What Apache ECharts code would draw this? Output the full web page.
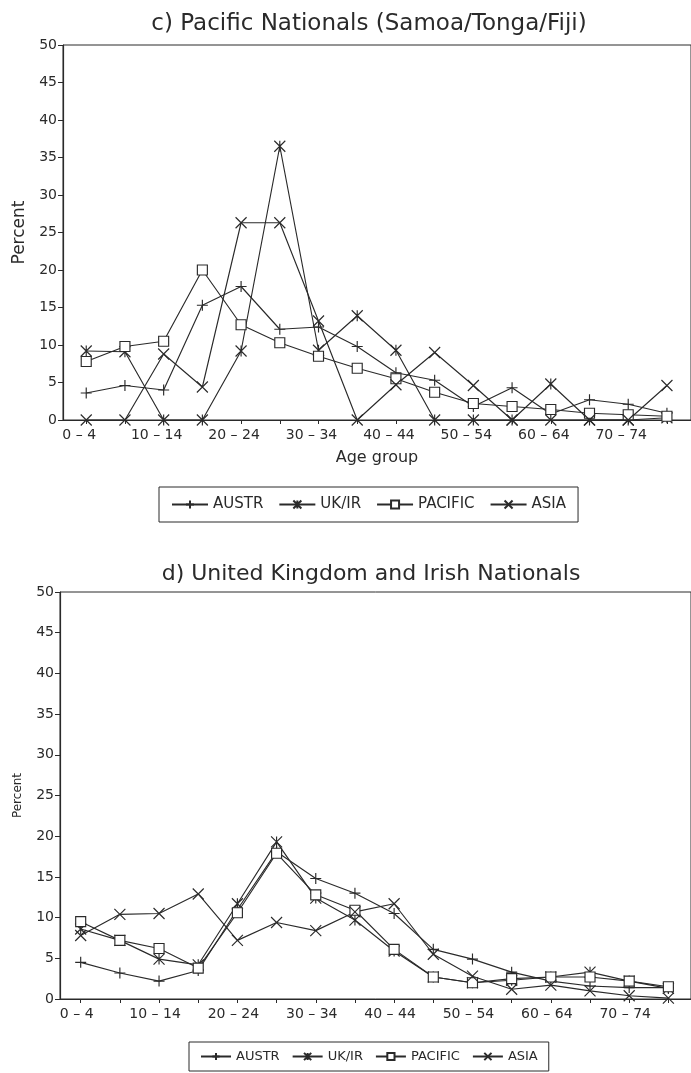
<!DOCTYPE html>
<html><head><meta charset="utf-8">
<script src="https://cdn.jsdelivr.net/npm/echarts@6/dist/echarts.min.js"></script>
<style>html,body{margin:0;padding:0;background:#fff}#c{width:691px;height:1073px}</style>
</head><body><div id="c"></div>
<script>
const ageGroups = ['0 – 4','5 – 9','10 – 14','15 – 19','20 – 24','25 – 29','30 – 34','35 – 39','40 – 44','45 – 49','50 – 54','55 – 59','60 – 64','65 – 69','70 – 74','75 – 79'];
const seriesNames = ['AUSTR','UK/IR','PACIFIC','ASIA'];
const yTicks = [0,5,10,15,20,25,30,35,40,45,50];

// c) Pacific Nationals
const cAustr   = [3.6, 4.6, 4.0, 15.3, 17.8, 12.1, 12.4, 9.8, 6.3, 5.3, 1.8, 4.3, 0.8, 2.7, 2.1, 0.9];
const cUkir    = [9.2, 9.1, 0, 0, 9.2, 36.5, 9.3, 13.9, 9.3, 0, 0, 0, 4.8, 0, 0, 0.3];
const cPacific = [7.8, 9.8, 10.5, 20.0, 12.7, 10.3, 8.5, 6.9, 5.5, 3.7, 2.2, 1.8, 1.4, 0.9, 0.7, 0.5];
const cAsia    = [0, 0, 8.8, 4.4, 26.3, 26.3, 13.2, 0, 4.7, 9.0, 4.6, 0, 0, 0, 0, 4.6];

// d) United Kingdom and Irish Nationals
const dAustr   = [4.5, 3.2, 2.2, 3.5, 11.0, 18.1, 14.8, 13.0, 10.5, 6.1, 4.9, 3.3, 2.2, 1.6, 1.4, 1.4];
const dUkir    = [8.6, 7.2, 4.9, 4.2, 11.7, 19.3, 12.4, 9.7, 5.9, 2.7, 2.0, 2.3, 2.7, 3.3, 2.2, 1.3];
const dPacific = [9.5, 7.2, 6.2, 3.8, 10.6, 17.9, 12.8, 10.9, 6.1, 2.7, 2.0, 2.5, 2.7, 2.7, 2.2, 1.5];
const dAsia    = [7.8, 10.4, 10.5, 12.9, 7.2, 9.4, 8.4, 10.7, 11.7, 5.5, 2.8, 1.2, 1.7, 1.0, 0.4, 0.1];

const INK = '#2a2a2a';
const FONT = 'DejaVu Sans';
const symbols = {
  'AUSTR': 'path://M5 0L5 10M0 5L10 5',
  'UK/IR': 'path://M0 0L10 10M10 0L0 10M5 0L5 10',
  'PACIFIC': 'path://M0 0L10 0L10 10L0 10Z',
  'ASIA': 'path://M0 0L10 10M10 0L0 10'
};
function pairs(arr){ return arr.map((v,i)=>[i,v]); }
function mk(name, arr, idx){
  return {
    name, type:'line', xAxisIndex:idx, yAxisIndex:idx, data:pairs(arr),
    symbol: symbols[name], symbolSize: name==='PACIFIC'?10:11,
    lineStyle:{color:INK,width:1.15},
    itemStyle:{color: name==='PACIFIC'?'#fff':INK, borderColor:INK, borderWidth:1.15},
    emphasis:{disabled:true}, animation:false, z: 3
  };
}
const idxTicks = ageGroups.map((_,i)=>i);
const idxLabels = ageGroups.map((_,i)=>i).filter(i=>i%2===0);
function xAx(gi, min, max, pad){
  return {
    type:'value', gridIndex:gi, min, max,
    axisLine:{show:true,onZero:false,lineStyle:{color:INK,width:1.2}},
    axisTick:{show:true,customValues:idxTicks,length:4,lineStyle:{color:INK}},
    axisLabel:{customValues:idxLabels,formatter:v=>ageGroups[v]||'',color:INK,fontFamily:FONT,fontSize:14,margin:8,padding:[0,pad,0,0]},
    splitLine:{show:false},
    name: gi===0 ? 'Age group' : '', nameLocation:'middle', nameGap:30,
    nameTextStyle:{color:INK,fontFamily:FONT,fontSize:16}
  };
}
function yAx(gi, fs, gap){
  return {
    type:'value', gridIndex:gi, min:0, max:50, interval:5,
    axisLine:{show:true,onZero:false,lineStyle:{color:INK,width:1.2}},
    axisTick:{show:true,length:5,lineStyle:{color:INK}},
    axisLabel:{color:INK,fontFamily:FONT,fontSize:14,margin:6,formatter:v=>yTicks.includes(v)?String(v):''},
    splitLine:{show:false},
    name:'Percent', nameLocation:'middle', nameRotate:90, nameGap:gap,
    nameTextStyle:{color:INK,fontFamily:FONT,fontSize:fs}
  };
}
const chart = echarts.init(document.getElementById('c'), null, {renderer:'canvas'});
chart.setOption({
  backgroundColor:'#fff',
  animation:false,
  title:[
    {text:'c) Pacific Nationals (Samoa/Tonga/Fiji)', left:364, top:8, textAlign:'center',
     textStyle:{color:INK,fontFamily:FONT,fontSize:23,fontWeight:'normal'}},
    {text:'d) United Kingdom and Irish Nationals', left:366, top:558, textAlign:'center',
     textStyle:{color:INK,fontFamily:FONT,fontSize:22,fontWeight:'normal'}}
  ],
  legend:[
    {data:seriesNames, left:159, top:487, orient:'horizontal', itemWidth:36, itemHeight:10, itemGap:15,
     borderColor:INK, borderWidth:1, padding:[10,12], textStyle:{color:INK,fontFamily:FONT,fontSize:15}, selectedMode:false},
    {data:seriesNames, left:189, top:1042, orient:'horizontal', itemWidth:30, itemHeight:9, itemGap:12,
     borderColor:INK, borderWidth:1, padding:[8,11], textStyle:{color:INK,fontFamily:FONT,fontSize:13}, selectedMode:false}
  ],
  grid:[
    {left:63, top:45, width:638, height:375, show:true, borderColor:INK, borderWidth:1, backgroundColor:'transparent'},
    {left:60, top:592, width:641, height:407, show:true, borderColor:INK, borderWidth:1, backgroundColor:'transparent'}
  ],
  xAxis:[ xAx(0, -0.6, -0.6+638/39.33, 14), xAx(1, -0.528, -0.528+641/39.8, 8) ],
  yAxis:[ yAx(0, 17, 34), yAx(1, 12, 36) ],
  series:[
    mk('AUSTR', cAustr, 0), mk('UK/IR', cUkir, 0), mk('PACIFIC', cPacific, 0), mk('ASIA', cAsia, 0),
    mk('AUSTR', dAustr, 1), mk('UK/IR', dUkir, 1), mk('PACIFIC', dPacific, 1), mk('ASIA', dAsia, 1)
  ]
});
</script>
</body></html>
